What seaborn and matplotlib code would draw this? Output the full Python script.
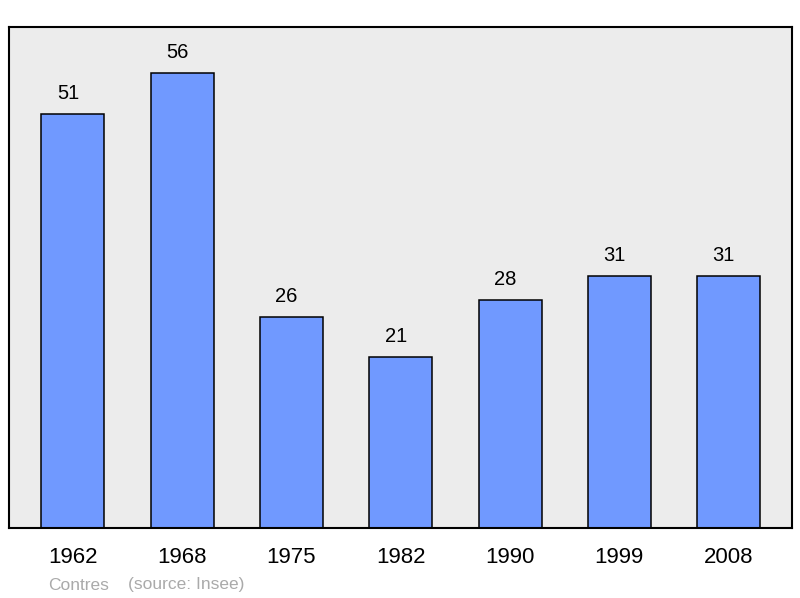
import pandas as pd
import matplotlib.pyplot as plt
import seaborn as sns

years = ["1962", "1968", "1975", "1982", "1990", "1999", "2008"]
population = [51, 56, 26, 21, 28, 31, 31]

df = pd.DataFrame({"Year": years, "Population": population})

sns.set_style("white")
plt.rcParams["font.family"] = ["Liberation Sans", "DejaVu Sans"]
plt.rcParams["text.color"] = "black"
plt.rcParams["xtick.color"] = "black"

fig = plt.figure(figsize=(8, 5.98), dpi=100)
ax = fig.add_axes([9 / 800, 70 / 598, 783 / 800, 501 / 598])
ax.set_facecolor("#ececec")

sns.barplot(data=df, x="Year", y="Population", color="#7099ff", saturation=1,
            edgecolor="black", linewidth=1.1, width=0.576, ax=ax)

# value labels sit slightly left of the bar centre
for i, v in enumerate(population):
    ax.annotate(str(v), (i, v), xytext=(-3.6, 8), textcoords="offset points",
                ha="center", va="bottom", fontsize=14.5, color="black")

ax.set_xlim(-0.585, 6.58)
ax.set_ylim(0, 61.66)
ax.set_yticks([])
ax.set_xlabel("")
ax.set_ylabel("")
ax.tick_params(axis="x", length=0, pad=14, labelsize=16, labelcolor="black")
for s in ax.spines.values():
    s.set_color("black")
    s.set_linewidth(1.5)

fig.text(48 / 800, 1 - 585 / 598, "Contres", color="#aaaaaa", fontsize=12.5, va="center")
fig.text(128 / 800, 1 - 585 / 598, "(source: Insee)", color="#aaaaaa", fontsize=12.5, va="center")

fig.savefig("out.png", dpi=100)
